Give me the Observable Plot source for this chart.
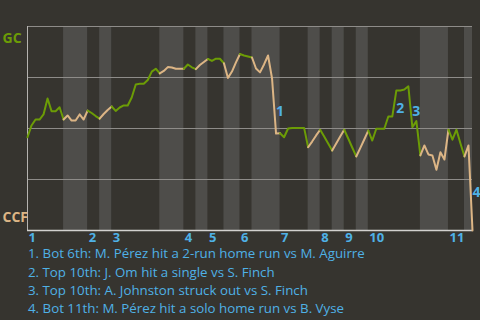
<!DOCTYPE html>
<html><head><meta charset="utf-8">
<script src="https://cdn.jsdelivr.net/npm/d3@7"></script>
<script src="https://cdn.jsdelivr.net/npm/@observablehq/plot@0.6"></script>
<style>
html,body{margin:0;padding:0;background:#36342f;width:480px;height:320px;overflow:hidden}
#chart svg{display:block}
#notes{font-family:"Open Sans",sans-serif;font-size:13.3px;line-height:14px;color:#4fb1e6;padding-left:28px;padding-top:1.3px;white-space:nowrap}
#notes div{margin-bottom:4.3px}
</style></head><body><div id="chart"></div><div id="notes"></div>
<script>
// Win probability for GC (%) after each event
const wp = [45.7, 51.5, 54.4, 54.4, 56.9, 64.7, 58.5, 58.5, 60.4, 54.4,
  56.4, 53.9, 53.9, 56.9, 54.4, 58.8,
  57.6, 56.1, 54.8,
  57.1, 59.1, 60.8,
  58.6, 60.3, 61.3, 61.3, 65.2, 71.6, 71.9, 71.9, 73.8, 77.9, 79.3, 77.0,
  78.2, 80.1, 79.9, 79.3, 79.3, 79.3,
  81.4, 80.0, 79.1,
  81.1, 82.6, 84.1,
  83.1, 84.2, 84.2, 82.0,
  74.8, 77.9, 82.4, 86.5,
  85.8, 85.3, 84.8,
  79.4, 77.5, 81.4, 85.8, 74.5, 47.5, 47.7,
  45.7, 50.0, 50.3, 50.3, 50.3, 50.3, 40.8,
  43.6, 46.6, 49.4,
  46.1, 42.6, 39.2,
  42.6, 46.1, 49.4,
  45.1, 40.7, 36.3,
  40.4, 44.6, 49.0,
  44.1, 49.9, 49.9, 49.9, 55.9, 55.9, 68.6, 68.6, 69.1, 70.7, 50.6, 53.6, 36.8,
  41.7, 37.3, 36.8, 29.8, 38.4, 34.8, 49.4,
  44.5, 49.4, 42.6, 36.3,
  41.7, 0];
// index of last event of each half-inning (top 1, bot 1, top 2, ...)
const halfEnd = [9, 15, 18, 21, 33, 39, 42, 45, 49, 53, 56, 63, 70, 73, 76, 79, 82, 85, 98, 105, 109, 111];
const inningLabels = ["1","2","3","4","5","6","7","8","9","10","11"];
const teams = ["GC", "CCF"];
const noteEvents = [62, 92, 96, 111];
const noteTexts = [
  "1. Bot 6th: M. Pérez hit a 2-run home run vs M. Aguirre",
  "2. Top 10th: J. Om hit a single vs S. Finch",
  "3. Top 10th: A. Johnston struck out vs S. Finch",
  "4. Bot 11th: M. Pérez hit a solo home run vs B. Vyse"
];
const yTicks = [0, 25, 50, 75, 100];

const green = "#6c9c06", tan = "#dcb585", blue = "#4fb1e6";

const startOf = h => h ? halfEnd[h - 1] : 0;
const bands = halfEnd.map((e, h) => ({x1: startOf(h), x2: e, h})).filter(d => d.h % 2 === 1);
const pts = [];
halfEnd.forEach((e, h) => {
  for (let i = startOf(h); i <= e; i++) pts.push({i, wp: wp[i], half: h, team: teams[h % 2]});
});
const innings = inningLabels.map((t, k) => ({t, x: k ? halfEnd[2 * k - 1] : 0}));
const notes = noteEvents.map((i, k) => ({n: String(k + 1), x: i - 0.5, y: (wp[i - 1] + wp[i]) / 2}));
const xMax = halfEnd[halfEnd.length - 1];

const chart = Plot.plot({
  width: 480, height: 245,
  marginLeft: 27, marginRight: 8, marginTop: 26, marginBottom: 15,
  x: {domain: [0, xMax], axis: null},
  y: {domain: [0, 100], axis: null},
  color: {domain: teams, range: [green, tan]},
  style: {background: "transparent", fontFamily: "'Open Sans', sans-serif", overflow: "visible"},
  marks: [
    Plot.rect(bands, {x1: "x1", x2: "x2", y1: 0, y2: 100, fill: "#4e4d4a"}),
    Plot.ruleY(yTicks.filter(d => d > 0), {x1: 0, x2: xMax, stroke: "#8e8c89"}),
    Plot.ruleX([0], {y1: 0, y2: 100, stroke: "#b5b3b0"}),
    Plot.ruleY([0], {x1: 0, x2: xMax, stroke: "#d2d1cf", strokeWidth: 1.5}),
    Plot.line(pts, {x: "i", y: "wp", z: "half", stroke: "team", strokeWidth: 2, strokeLinejoin: "round"}),
    Plot.text(notes, {x: "x", y: "y", text: "n", textAnchor: "start", dx: 2, dy: 5, fill: blue, fontWeight: "bold", fontSize: 14}),
    Plot.text(innings, {x: "x", y: 0, text: "t", textAnchor: "start", dx: 1, dy: 7, fill: blue, fontWeight: "bold", fontSize: 13}),
    Plot.text([teams[0]], {frameAnchor: "top-left", textAnchor: "start", dx: -25, dy: 7, fill: green, fontWeight: "bold", fontSize: 14}),
    Plot.text([teams[1]], {frameAnchor: "bottom-left", textAnchor: "start", dx: -25, dy: -9, fill: tan, fontWeight: "bold", fontSize: 14})
  ]
});
document.getElementById("chart").appendChild(chart);
const nd = document.getElementById("notes");
noteTexts.forEach(t => { const d = document.createElement("div"); d.textContent = t; nd.appendChild(d); });
</script></body></html>
